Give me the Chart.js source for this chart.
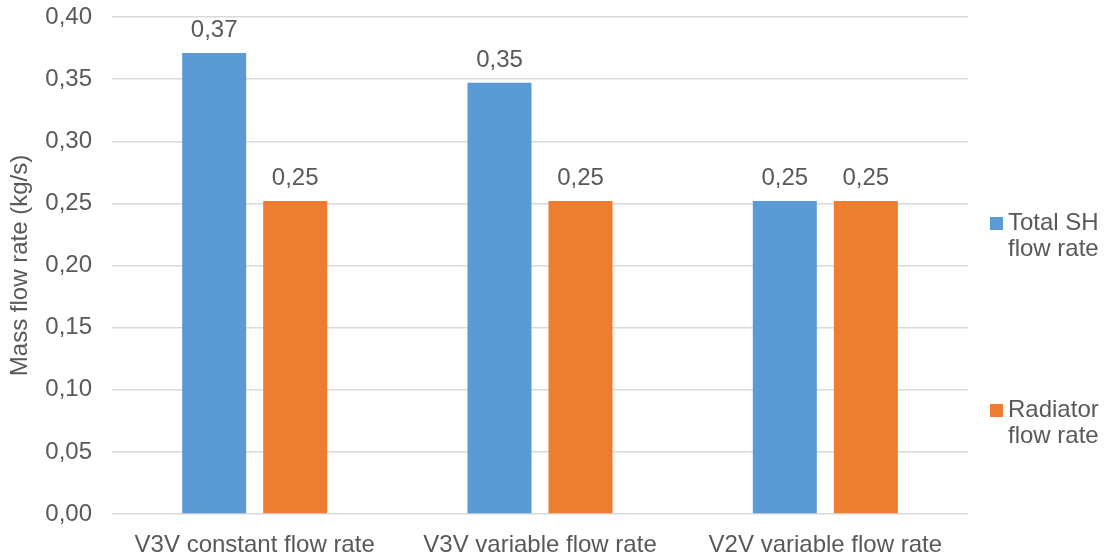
<!DOCTYPE html>
<html lang="en">
<head>
    <meta charset="UTF-8">
    <title>Mass flow rate</title>
    <script src="https://cdn.jsdelivr.net/npm/chart.js@4.4.0/dist/chart.umd.min.js"></script>
    <style>
        html, body { margin: 0; padding: 0; background: #fff; }
        #wrap { width: 1105px; height: 559px; }
    </style>
</head>
<body>
    <div id="wrap"><canvas id="flowChart" width="1105" height="559"></canvas></div>

    <script>
        // data
        const categories = ['V3V constant flow rate', 'V3V variable flow rate', 'V2V variable flow rate'];
        const seriesNames = ['Total SH flow rate', 'Radiator flow rate'];
        const totalSH = [0.371, 0.347, 0.252];
        const radiator = [0.252, 0.252, 0.252];
        const yTicks = [0, 0.05, 0.10, 0.15, 0.20, 0.25, 0.30, 0.35, 0.40];

        const FONT = "'Liberation Sans', Arial, sans-serif";
        const FSIZE = 24;
        const TXT = '#595959';

        const fmt = v => v.toFixed(2).replace('.', ',');

        // value labels above bars
        const valueLabels = {
            id: 'valueLabels',
            afterDatasetsDraw(chart) {
                const ctx = chart.ctx;
                ctx.save();
                ctx.font = FSIZE + 'px ' + FONT;
                ctx.fillStyle = TXT;
                ctx.textAlign = 'center';
                ctx.textBaseline = 'alphabetic';
                chart.data.datasets.forEach((ds, i) => {
                    chart.getDatasetMeta(i).data.forEach((bar, j) => {
                        ctx.fillText(fmt(ds.data[j]), bar.x, bar.y - 16);
                    });
                });
                ctx.restore();
            }
        };

        // legend on the right, with wrapped text
        const sideLegend = {
            id: 'sideLegend',
            afterDraw(chart) {
                const ctx = chart.ctx;
                ctx.save();
                ctx.font = FSIZE + 'px ' + FONT;
                ctx.textBaseline = 'middle';
                ctx.textAlign = 'left';
                const tops = [217, 404];
                chart.data.datasets.forEach((ds, i) => {
                    const words = ds.label.split(' ');
                    const lines = [];
                    let cur = '';
                    words.forEach(w => {
                        const t = cur ? cur + ' ' + w : w;
                        if (cur && ctx.measureText(t).width > 105) { lines.push(cur); cur = w; }
                        else cur = t;
                    });
                    lines.push(cur);
                    ctx.fillStyle = ds.backgroundColor;
                    ctx.fillRect(990, tops[i], 13, 13);
                    ctx.fillStyle = TXT;
                    lines.forEach((l, k) => ctx.fillText(l, 1008, tops[i] + 6 + k * 26));
                });
                ctx.restore();
            }
        };

        new Chart(document.getElementById('flowChart'), {
            type: 'bar',
            data: {
                labels: categories,
                datasets: [
                    { label: seriesNames[0], data: totalSH, backgroundColor: '#5B9BD5' },
                    { label: seriesNames[1], data: radiator, backgroundColor: '#ED7D31' }
                ]
            },
            options: {
                responsive: false,
                animation: false,
                categoryPercentage: 0.568,
                barPercentage: 0.79,
                layout: { padding: { top: 17, right: 137, left: 0, bottom: 0 } },
                plugins: {
                    legend: { display: false },
                    tooltip: { enabled: false }
                },
                scales: {
                    x: {
                        grid: { display: false },
                        border: { display: false },
                        ticks: {
                            color: TXT,
                            font: { family: FONT, size: FSIZE },
                            padding: 9,
                            maxRotation: 0
                        },
                        afterFit(s) { s.height = 45; s.paddingLeft = 0; s.paddingRight = 0; }
                    },
                    y: {
                        min: 0,
                        max: 0.4,
                        afterBuildTicks(s) { s.ticks = yTicks.map(v => ({ value: v })); },
                        grid: { color: '#D9D9D9', lineWidth: 1.5, drawTicks: false },
                        border: { display: false },
                        ticks: {
                            color: TXT,
                            font: { family: FONT, size: FSIZE },
                            padding: 20,
                            callback: v => fmt(v)
                        },
                        title: {
                            display: true,
                            text: 'Mass flow rate (kg/s)',
                            color: TXT,
                            font: { family: FONT, size: FSIZE },
                            padding: { top: 6, bottom: 4 }
                        },
                        afterFit(s) { s.width = 112; s.paddingTop = 0; s.paddingBottom = 0; }
                    }
                }
            },
            plugins: [valueLabels, sideLegend]
        });
    </script>
</body>
</html>
